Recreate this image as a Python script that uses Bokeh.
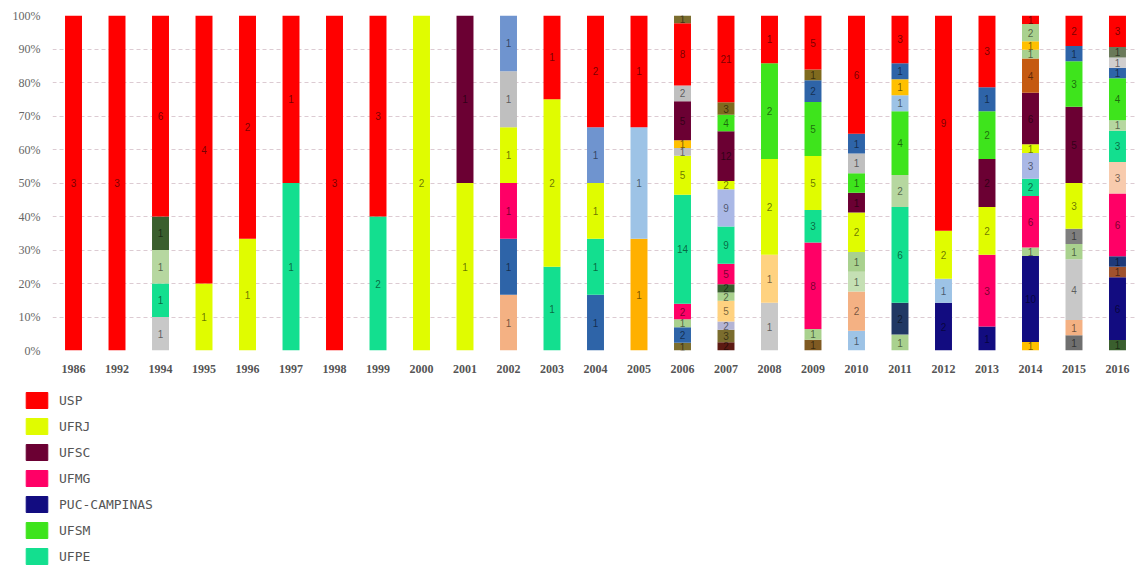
from bokeh.plotting import figure
from bokeh.layouts import column
from bokeh.models import (ColumnDataSource, Range1d, FixedTicker, PrintfTickFormatter,
                          Legend, LegendItem)
from bokeh.core.properties import value
from bokeh.embed import file_html
from bokeh.resources import INLINE

YEARS = ["1986", "1992", "1994", "1995", "1996", "1997", "1998", "1999", "2000", "2001",
         "2002", "2003", "2004", "2005", "2006", "2007", "2008", "2009", "2010", "2011",
         "2012", "2013", "2014", "2015", "2016"]

# Named institutions (shown in legend), counts per year
USP          = [3, 3, 6, 4, 2, 1, 3, 3, 0, 0, 0, 1, 2, 1, 8, 21, 1, 5, 6, 3, 9, 3, 1, 2, 3]
UFRJ         = [0, 0, 0, 1, 1, 0, 0, 0, 2, 1, 1, 2, 1, 0, 5, 2, 2, 5, 2, 0, 2, 2, 1, 3, 0]
UFSC         = [0, 0, 0, 0, 0, 0, 0, 0, 0, 1, 0, 0, 0, 0, 5, 12, 0, 0, 1, 0, 0, 2, 6, 5, 0]
UFMG         = [0, 0, 0, 0, 0, 0, 0, 0, 0, 0, 1, 0, 0, 0, 2, 5, 0, 8, 0, 0, 0, 3, 6, 0, 6]
PUC_CAMPINAS = [0, 0, 0, 0, 0, 0, 0, 0, 0, 0, 0, 0, 0, 0, 0, 0, 0, 0, 0, 0, 2, 1, 10, 0, 6]
UFSM         = [0, 0, 0, 0, 0, 0, 0, 0, 0, 0, 0, 0, 0, 0, 0, 4, 2, 5, 1, 4, 0, 2, 0, 3, 4]
UFPE         = [0, 0, 1, 0, 0, 1, 0, 2, 0, 0, 0, 1, 1, 0, 14, 9, 0, 3, 0, 6, 0, 0, 2, 0, 3]

# Other institutions (not named in the visible legend), sparse counts {year: count}
O_DKGRAY_A   = {"2015": 1}
O_DKBROWN    = {"2007": 2}
O_BROWN_A    = {"2009": 1}
O_ORANGE_A   = {"2005": 1}
O_LBLUE_A    = {"2005": 1, "2010": 1}
O_OLIVE_A    = {"2006": 1, "2007": 3}
O_PEACH_A    = {"2002": 1, "2010": 2, "2015": 1}
O_STEEL_A    = {"2002": 1, "2004": 1, "2006": 2}
O_LAVGRAY    = {"2007": 2}
O_LGRAY_A    = {"1994": 1, "2008": 1, "2015": 4}
O_WHEAT      = {"2007": 5, "2008": 1}
O_LSAGE_A    = {"2010": 1}
O_SAGE_A     = {"2006": 1, "2007": 2, "2009": 1, "2010": 1, "2011": 1, "2015": 1}
O_DKGREEN_A  = {"2007": 2, "2016": 1}
O_DKSLATE    = {"2011": 2}
O_DKGRAY_B   = {"2015": 1}
O_GOLD_A     = {"2014": 1}
O_BROWN_B    = {"2016": 1}
O_NAVY_B     = {"2016": 1}
O_SAGE_B     = {"2014": 1}
O_LBLUE_B    = {"2012": 1}
O_PEACH_C    = {"2016": 3}
O_LAVENDER   = {"2007": 9, "2014": 3}
O_SAGE_D     = {"1994": 1, "2011": 2, "2016": 1}
O_DKGREEN_D  = {"1994": 1}
O_GRAY_E     = {"2002": 1, "2006": 1}
O_ORANGE_E   = {"2006": 1}
O_CORNFLOWER = {"2002": 1, "2004": 1}
O_GRAY_G     = {"2006": 2, "2010": 1}
O_LBLUE_G    = {"2011": 1}
O_GOLD_G     = {"2011": 1}
O_STEEL_G    = {"2009": 2, "2010": 1, "2011": 1, "2013": 1, "2015": 1, "2016": 1}
O_OLIVEBROWN = {"2007": 3, "2009": 1}
O_SIENNA     = {"2014": 4}
O_SAGE_G1    = {"2014": 1}
O_GOLD_G2    = {"2014": 1}
O_SAGE_G2    = {"2014": 2}
O_LGRAY_G    = {"2016": 1}
O_OLIVEGRAY  = {"2016": 1}
O_OLIVE_H    = {"2006": 1}


def dense(d):
    return [d.get(y, 0) for y in YEARS]


# stacking order, bottom to top: (key, label, color, counts)
STACK = [
    ("o01", "", "#6f6f6f", dense(O_DKGRAY_A)),
    ("o02", "", "#5c1a12", dense(O_DKBROWN)),
    ("o03", "", "#7f5a22", dense(O_BROWN_A)),
    ("o04", "", "#ffb000", dense(O_ORANGE_A)),
    ("o05", "", "#9dc3e6", dense(O_LBLUE_A)),
    ("o06", "", "#7b6d2e", dense(O_OLIVE_A)),
    ("o07", "", "#f4b183", dense(O_PEACH_A)),
    ("o08", "", "#2e64a8", dense(O_STEEL_A)),
    ("o09", "", "#b4b4d4", dense(O_LAVGRAY)),
    ("o10", "", "#c8c8c8", dense(O_LGRAY_A)),
    ("o11", "", "#ffd280", dense(O_WHEAT)),
    ("o12", "", "#c5e0b4", dense(O_LSAGE_A)),
    ("o13", "", "#a9d18e", dense(O_SAGE_A)),
    ("o14", "", "#3a5f2e", dense(O_DKGREEN_A)),
    ("o15", "", "#203864", dense(O_DKSLATE)),
    ("o16", "", "#7f7f7f", dense(O_DKGRAY_B)),
    ("o17", "", "#ffc000", dense(O_GOLD_A)),
    ("puc", "PUC-CAMPINAS", "#120c80", PUC_CAMPINAS),
    ("o18", "", "#a0522d", dense(O_BROWN_B)),
    ("o19", "", "#1f3a7a", dense(O_NAVY_B)),
    ("o20", "", "#a9d18e", dense(O_SAGE_B)),
    ("o21", "", "#9dc3e6", dense(O_LBLUE_B)),
    ("ufmg", "UFMG", "#ff0066", UFMG),
    ("o22", "", "#f8cbad", dense(O_PEACH_C)),
    ("ufpe", "UFPE", "#13df8f", UFPE),
    ("o23", "", "#aab8e6", dense(O_LAVENDER)),
    ("o24", "", "#b6d7a0", dense(O_SAGE_D)),
    ("o25", "", "#3a5f2e", dense(O_DKGREEN_D)),
    ("ufrj", "UFRJ", "#e0fc00", UFRJ),
    ("o26", "", "#bfbfbf", dense(O_GRAY_E)),
    ("o27", "", "#ffc000", dense(O_ORANGE_E)),
    ("o28", "", "#6f94cf", dense(O_CORNFLOWER)),
    ("ufsc", "UFSC", "#6b0033", UFSC),
    ("ufsm", "UFSM", "#3ee41c", UFSM),
    ("o29", "", "#bfbfbf", dense(O_GRAY_G)),
    ("o30", "", "#9dc3e6", dense(O_LBLUE_G)),
    ("o31", "", "#ffc000", dense(O_GOLD_G)),
    ("o32", "", "#2e64a8", dense(O_STEEL_G)),
    ("o33", "", "#7f6a1e", dense(O_OLIVEBROWN)),
    ("o34", "", "#c55a11", dense(O_SIENNA)),
    ("o35", "", "#a9d18e", dense(O_SAGE_G1)),
    ("o36", "", "#ffc000", dense(O_GOLD_G2)),
    ("o37", "", "#a9d18e", dense(O_SAGE_G2)),
    ("o38", "", "#d0cece", dense(O_LGRAY_G)),
    ("o39", "", "#6b7a5a", dense(O_OLIVEGRAY)),
    ("usp", "USP", "#ff0000", USP),
    ("o40", "", "#7b6d2e", dense(O_OLIVE_H)),
]

LEGEND_ORDER = ["usp", "ufrj", "ufsc", "ufmg", "puc", "ufsm", "ufpe"]

n = len(YEARS)
xs = list(range(n))
totals = [sum(s[3][i] for s in STACK) for i in range(n)]

data = {"x": xs}
for key, label, color, counts in STACK:
    data[key] = [100.0 * counts[i] / totals[i] if totals[i] else 0.0 for i in range(n)]
src = ColumnDataSource(data)

# label positions
lx, ly, lt = [], [], []
for i in range(n):
    base = 0.0
    for key, label, color, counts in STACK:
        h = data[key][i]
        if counts[i] > 0:
            lx.append(i)
            ly.append(base + h / 2.0)
            lt.append(str(counts[i]))
        base += h
lab_src = ColumnDataSource(dict(x=lx, y=ly, t=lt))

p = figure(frame_width=1084, frame_height=335, output_backend="svg", toolbar_location=None,
           x_range=Range1d(-0.483, 24.437), y_range=Range1d(0, 100),
           min_border_top=15, min_border_left=52, min_border_right=0, min_border_bottom=32)
p.frame_align = False

renderers = p.vbar_stack([s[0] for s in STACK], x="x", width=0.39,
                         fill_color=[s[2] for s in STACK], line_color=None, source=src)

p.text(x="x", y="y", text="t", source=lab_src, text_align="center", text_baseline="middle",
       text_font=value("Liberation Sans"), text_font_size="10px",
       text_color="black", text_alpha=0.55)

p.outline_line_color = None
p.xgrid.grid_line_color = None
p.ygrid.grid_line_color = "#dccbd2"
p.ygrid.grid_line_dash = "4 3"
p.ygrid.ticker = FixedTicker(ticks=list(range(0, 101, 10)))

p.yaxis.ticker = FixedTicker(ticks=list(range(0, 101, 10)))
p.yaxis.formatter = PrintfTickFormatter(format="%d%%")
p.yaxis.axis_line_color = None
p.yaxis.major_tick_line_color = None
p.yaxis.minor_tick_line_color = None
p.yaxis.major_tick_out = 0
p.yaxis.minor_tick_out = 0
p.yaxis.major_label_text_font = "Liberation Serif"
p.yaxis.major_label_text_font_size = "12px"
p.yaxis.major_label_text_color = "#666666"
p.yaxis.major_label_standoff = 12

p.xaxis.ticker = FixedTicker(ticks=xs)
p.xaxis.major_label_overrides = {i: y for i, y in enumerate(YEARS)}
p.xaxis.axis_line_color = None
p.xaxis.major_tick_line_color = None
p.xaxis.minor_tick_line_color = None
p.xaxis.major_tick_out = 0
p.xaxis.minor_tick_out = 0
p.xaxis.major_label_text_font = "Liberation Serif"
p.xaxis.major_label_text_font_size = "12px"
p.xaxis.major_label_text_font_style = "bold"
p.xaxis.major_label_text_color = "#555555"
p.xaxis.major_label_standoff = 14

# Legend panel below the chart (its bars lie outside its view; only the legend shows)
LEG_H = 183
q = figure(width=1136, height=LEG_H, output_backend="svg", toolbar_location=None,
           x_range=Range1d(-100, -99), y_range=Range1d(0, 100), x_axis_type=None, y_axis_type=None,
           min_border=0)
q.frame_align = False
q.outline_line_color = None
q.xgrid.visible = False
q.ygrid.visible = False
cmap = {s[0]: s[2] for s in STACK}
lmap = {s[0]: s[1] for s in STACK}
items = []
for k in LEGEND_ORDER:
    r = q.vbar(x="x", top=k, width=0.39, fill_color=cmap[k], line_color=cmap[k], source=src)
    items.append(LegendItem(label=lmap[k], renderers=[r]))
legend = Legend(items=items, location=(23, LEG_H - 8 - 176), orientation="vertical",
                glyph_width=27, glyph_height=20, spacing=6, label_standoff=9,
                padding=0, margin=0, border_line_color=None, background_fill_alpha=0,
                label_text_font="DejaVu Sans Mono", label_text_font_size="13px",
                label_text_color="#555555")
q.add_layout(legend)

layout = column(p, q, spacing=0)
open("out.html", "w").write(file_html(layout, INLINE))
